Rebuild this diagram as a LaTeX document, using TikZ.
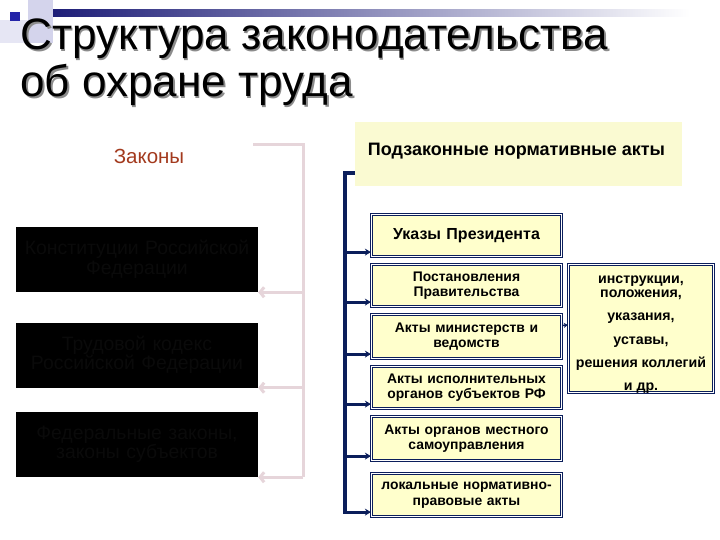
\documentclass[tikz,border=0pt]{standalone}
\usepackage{fontspec}
\setmainfont{Liberation Sans}
\usetikzlibrary{arrows.meta,calc}
\definecolor{navy}{HTML}{0B1E5B}
\definecolor{pale}{HTML}{FFFFCC}
\definecolor{hdrfill}{HTML}{FAFAD2}
\definecolor{pinkline}{HTML}{E6D5DA}
\definecolor{brick}{HTML}{A33A1E}
\definecolor{lav}{HTML}{D4D4EC}
\definecolor{lavlight}{HTML}{E6E6F4}
\definecolor{barblue}{HTML}{1E1E78}
\definecolor{sqblue}{HTML}{2424A8}
\definecolor{dimtext}{HTML}{0A0A0A}
\begin{document}
\begin{tikzpicture}[x=1pt,y=-1pt,
  actbox/.style={draw=navy, double=white, double distance=0.8pt, line width=1.2pt,
    fill=pale, minimum width=190pt, minimum height=42pt, inner sep=1pt,
    text width=186pt, align=center, font=\bfseries\fontsize{13.9}{15.5}\selectfont},
  lawbox/.style={fill=black, minimum width=240pt, minimum height=65pt, inner sep=2pt,
    text=dimtext, text width=238pt, align=center, font=\fontsize{19.4}{19.5}\selectfont},
  titletext/.style={anchor=base west, font=\fontsize{44}{50}\selectfont},
  navyline/.style={draw=navy, line width=3.2pt, line join=miter},
  navyarr/.style={draw=navy, line width=3pt, -{Stealth[length=6pt,width=7pt]}},
  pinkbr/.style={draw=pinkline, line width=3pt, line join=miter},
  pinkarr/.style={draw=pinkline, line width=3pt, -{Straight Barb[length=4pt,width=10pt]}}
]
\useasboundingbox (0,0) rectangle (720,540);
\fill[white] (0,0) rectangle (720,540);
% title decoration
\fill[lav] (28,0) rectangle (53,43);
\fill[lavlight] (0,20) rectangle (28,43);
\shade[left color=barblue, right color=white] (53,10) rectangle (690,17);
\fill[sqblue] (10,12) rectangle (20,21);
% title
\node[titletext, text=black!45] (t1s) at (18.5,51.5) {Структура законодательства};
\node[titletext] (t1) at (17,50) {Структура законодательства};
\node[titletext, text=black!45] (t2s) at (18.5,98.5) {об охране труда};
\node[titletext] (t2) at (17,97) {об охране труда};
% left column
\node[anchor=base, text=brick, font=\fontsize{20.5}{22}\selectfont] (zak) at (149,164) {Законы};
\node[lawbox] (k1) at (137,259.5) {Конституции Российской\\Федерации};
\node[lawbox] (k2) at (137,355) {Трудовой кодекс\\Российской Федерации};
\node[lawbox] (k3) at (137,444.5) {Федеральные законы,\\законы субъектов};
% pink bracket
\coordinate (ptop) at (253,145);
\coordinate (pbus) at (303,145);
\draw[pinkbr] (ptop) -- (pbus) -- (pbus |- k3.south east);
\draw[pinkarr] (pbus |- k3.south east) -- (k3.south east);
\draw[pinkarr] (pbus |- k1.south east) -- (k1.south east);
\draw[pinkarr] (pbus |- k2.south east) -- (k2.south east);
% header
\node[fill=hdrfill, minimum width=327pt, minimum height=64pt] (hdr) at (518.5,154) {};
\node[anchor=base, font=\bfseries\fontsize{18}{20}\selectfont] (hdrt) at ($(hdr.center)+(-2,2)$) {Подзаконные нормативные акты};
% act boxes
\node[actbox, minimum height=42pt, font=\bfseries\fontsize{16}{18}\selectfont] (b1) at (466.5,235.5) {Указы Президента};
\node[actbox, minimum height=42pt] (b2) at (466.5,285.5) {Постановления\\Правительства};
\node[actbox, minimum height=44pt] (b3) at (466.5,336.5) {Акты министерств и\\ведомств};
\node[actbox, minimum height=42pt] (b4) at (466.5,387.5) {Акты исполнительных\\органов субъектов РФ};
\node[actbox, minimum height=44pt] (b5) at (466.5,438.5) {Акты органов местного\\самоуправления};
\node[actbox, minimum height=43pt] (b6) at (466.5,495) {локальные нормативно-\\правовые акты};
% right box
\node[draw=navy, double=white, double distance=0.8pt, line width=1.5pt, fill=pale,
      minimum width=145pt, minimum height=128pt] (ins) at (641,328.5) {};
\node[align=center, font=\bfseries\fontsize{14.2}{14}\selectfont] (inst) at ($(ins.center)+(0,6.5)$)
  {инструкции,\\положения,\\[9pt]указания,\\[9.5pt]уставы,\\[9pt]решения коллегий\\[9.5pt]и др.};
\draw[navy, line width=1.5pt, -{Stealth[length=4pt,width=5pt]}] ($(b3.east)+(0,-11)$) -- ($(ins.west)+(0,-3.5)$);
% navy bracket
\coordinate (bustop) at (345,173);
\foreach \i in {1,...,6} {
  \coordinate (a\i) at ($(b\i.south west)+(0,-5)$);
}
\draw[navyline] (hdr.west |- bustop) -- (bustop) -- (bustop |- a6) -- ($(a6)+(-6,0)$);
\foreach \i in {1,...,6} {
  \draw[navyarr] (bustop |- a\i) -- (a\i);
}
\end{tikzpicture}
\end{document}
